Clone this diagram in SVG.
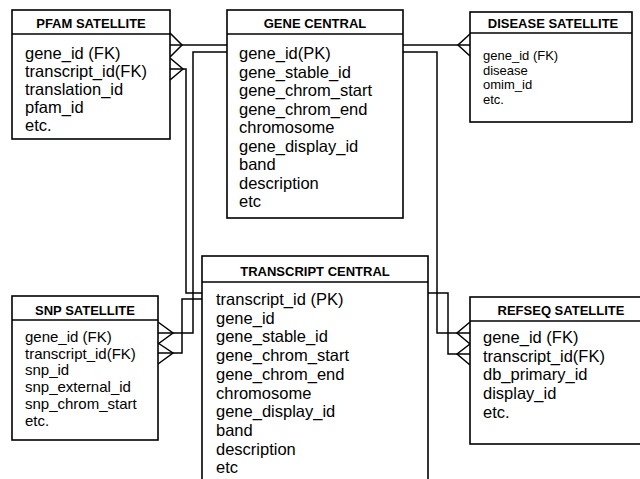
<svg xmlns="http://www.w3.org/2000/svg" width="640" height="479" viewBox="0 0 640 479">
<style>
.box{fill:#fff;stroke:#000;stroke-width:1.6}
.hd{stroke:#000;stroke-width:1.4}
.t{font-family:"Liberation Sans",Arial,sans-serif;font-weight:bold;font-size:13px;text-anchor:middle;fill:#000}
.f{font-family:"Liberation Sans",Arial,sans-serif;font-size:16.5px;fill:#000}
.fs{font-family:"Liberation Sans",Arial,sans-serif;font-size:15px;fill:#000}
.fd{font-family:"Liberation Sans",Arial,sans-serif;font-size:13px;fill:#000}
.c{fill:none;stroke:#000;stroke-width:1.5}
</style>
<rect width="640" height="479" fill="#fff"/>
<g id="connectors">
<path class="c" d="M170,45H227"/>
<path class="c" d="M170,33L182,45L170,57"/>
<path class="c" d="M170,69H186V293H202"/>
<path class="c" d="M170,58L183,69L170,80"/>
<path class="c" d="M227,52H193V333H158"/>
<path class="c" d="M158,322L173,333L158,344"/>
<path class="c" d="M202,299H182V353H158"/>
<path class="c" d="M158,343L173,353L158,364"/>
<path class="c" d="M403,45H470"/>
<path class="c" d="M470,34L458,45L470,56"/>
<path class="c" d="M403,52H437V333H470"/>
<path class="c" d="M470,322L457,333L470,344"/>
<path class="c" d="M428,293H448V354H470"/>
<path class="c" d="M470,344L457,354L470,365"/>
</g>
<g id="pfam">
<rect class="box" x="12" y="10" width="158" height="129"/>
<line class="hd" x1="12" y1="34" x2="170" y2="34"/>
<text class="t" x="91" y="28">PFAM SATELLITE</text>
<text class="f" x="25" y="59">gene_id (FK)</text>
<text class="f" x="25" y="77">transcript_id(FK)</text>
<text class="f" x="25" y="95">translation_id</text>
<text class="f" x="25" y="113">pfam_id</text>
<text class="f" x="25" y="131">etc.</text>
</g>
<g id="gene">
<rect class="box" x="227" y="10" width="176" height="208"/>
<line class="hd" x1="227" y1="34" x2="403" y2="34"/>
<text class="t" x="315" y="28">GENE CENTRAL</text>
<text class="f" x="239" y="59">gene_id(PK)</text>
<text class="f" x="239" y="77.5">gene_stable_id</text>
<text class="f" x="239" y="96">gene_chrom_start</text>
<text class="f" x="239" y="114.5">gene_chrom_end</text>
<text class="f" x="239" y="133">chromosome</text>
<text class="f" x="239" y="151.5">gene_display_id</text>
<text class="f" x="239" y="170">band</text>
<text class="f" x="239" y="188.5">description</text>
<text class="f" x="239" y="207">etc</text>
</g>
<g id="disease">
<rect class="box" x="470" y="12" width="162" height="110"/>
<line class="hd" x1="470" y1="33" x2="632" y2="33"/>
<text class="t" x="553" y="28">DISEASE SATELLITE</text>
<text class="fd" x="483" y="60">gene_id (FK)</text>
<text class="fd" x="483" y="74.5">disease</text>
<text class="fd" x="483" y="89">omim_id</text>
<text class="fd" x="483" y="103.5">etc.</text>
</g>
<g id="transcript">
<rect class="box" x="202" y="256" width="226" height="240"/>
<line class="hd" x1="202" y1="282" x2="428" y2="282"/>
<text class="t" x="315" y="276">TRANSCRIPT CENTRAL</text>
<text class="f" x="216" y="305">transcript_id (PK)</text>
<text class="f" x="216" y="323.7">gene_id</text>
<text class="f" x="216" y="342.4">gene_stable_id</text>
<text class="f" x="216" y="361.1">gene_chrom_start</text>
<text class="f" x="216" y="379.8">gene_chrom_end</text>
<text class="f" x="216" y="398.5">chromosome</text>
<text class="f" x="216" y="417.2">gene_display_id</text>
<text class="f" x="216" y="435.9">band</text>
<text class="f" x="216" y="454.6">description</text>
<text class="f" x="216" y="473.3">etc</text>
</g>
<g id="snp">
<rect class="box" x="12" y="296" width="146" height="144"/>
<line class="hd" x1="12" y1="320" x2="158" y2="320"/>
<text class="t" x="85" y="315">SNP SATELLITE</text>
<text class="fs" x="25" y="342">gene_id (FK)</text>
<text class="fs" x="25" y="358.7">transcript_id(FK)</text>
<text class="fs" x="25" y="375.4">snp_id</text>
<text class="fs" x="25" y="392.1">snp_external_id</text>
<text class="fs" x="25" y="408.8">snp_chrom_start</text>
<text class="fs" x="25" y="425.5">etc.</text>
</g>
<g id="refseq">
<rect class="box" x="470" y="297" width="180" height="147"/>
<line class="hd" x1="470" y1="321" x2="650" y2="321"/>
<text class="t" x="561" y="315">REFSEQ SATELLITE</text>
<text class="f" x="483" y="343">gene_id (FK)</text>
<text class="f" x="483" y="361.7">transcript_id(FK)</text>
<text class="f" x="483" y="380.4">db_primary_id</text>
<text class="f" x="483" y="399.1">display_id</text>
<text class="f" x="483" y="417.8">etc.</text>
</g>
</svg>
